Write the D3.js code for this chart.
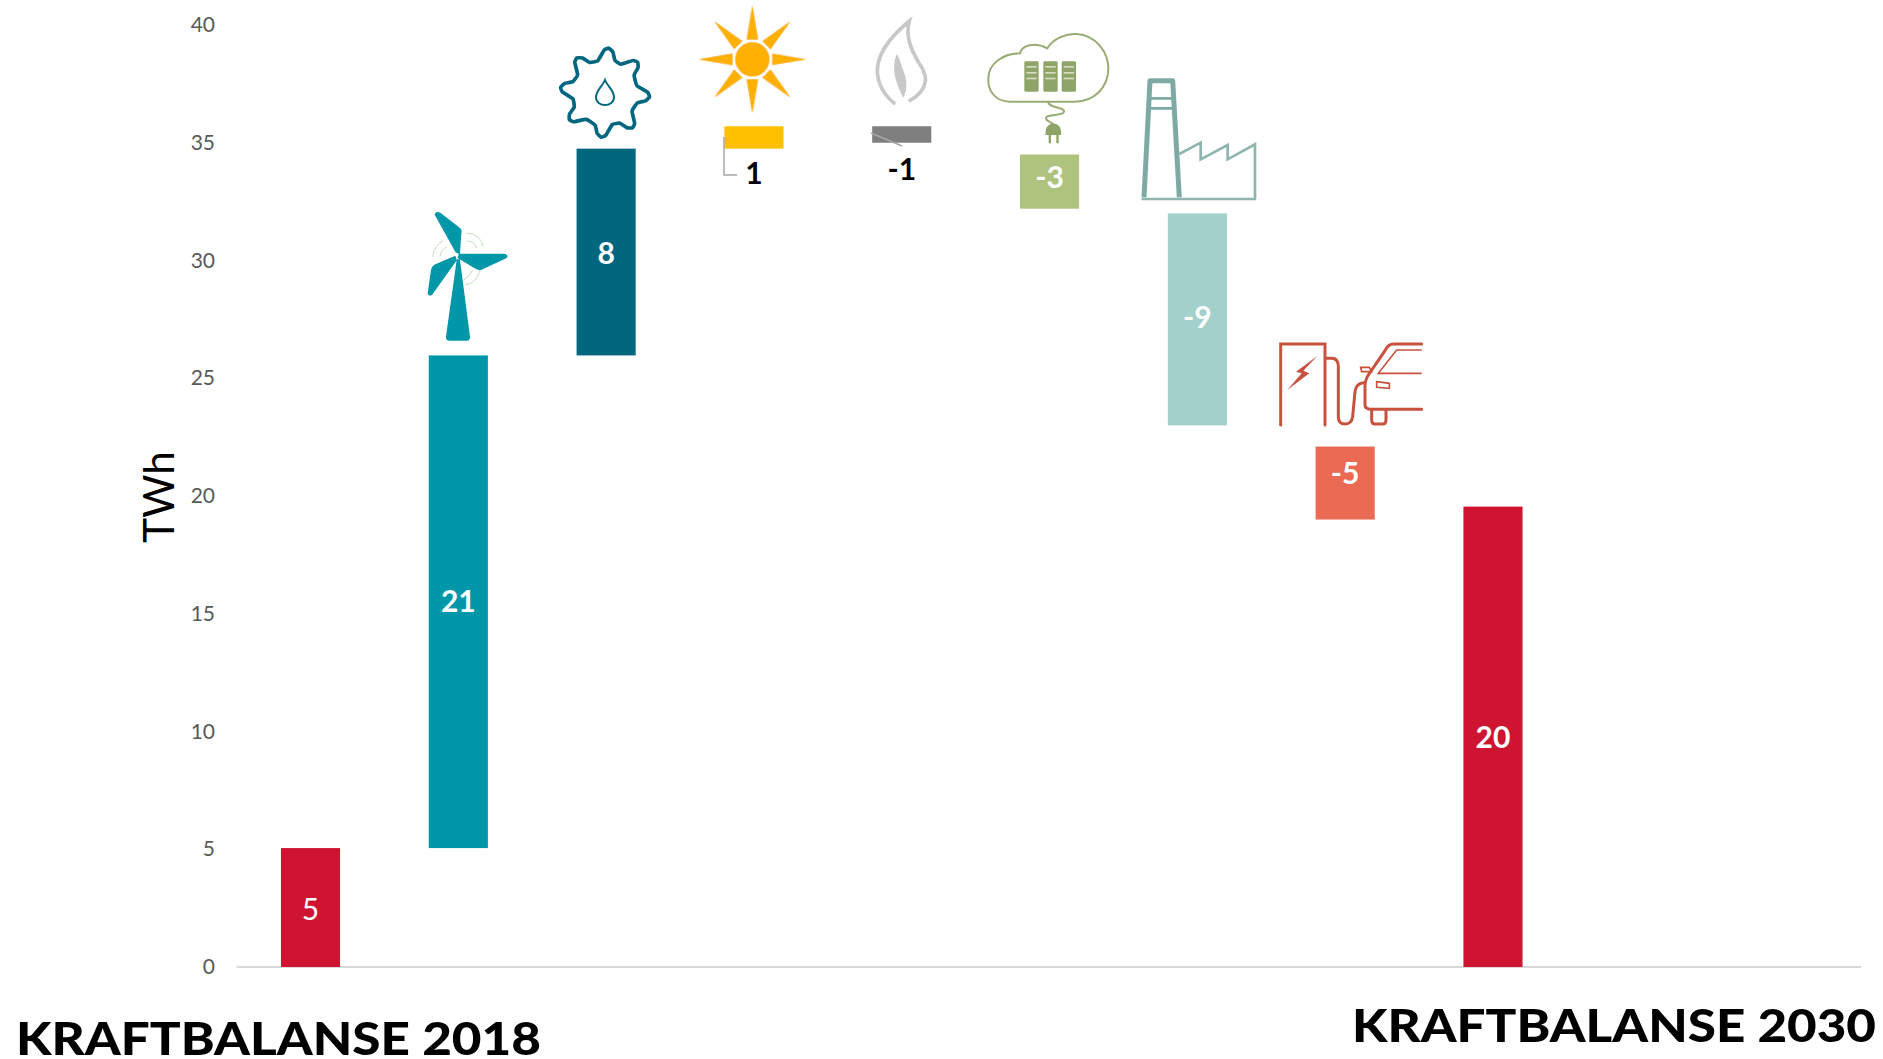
<!DOCTYPE html>
<html><head><meta charset="utf-8">
<script src="https://cdn.jsdelivr.net/npm/d3@7/dist/d3.min.js"></script>
<style>html,body{margin:0;padding:0;background:#fff}svg{display:block}text{font-family:Lato,sans-serif}</style>
</head><body><svg id="c" width="1883" height="1059"></svg>
<script>
const categories=["Kraftbalanse 2018","Vind","Vann","Sol","Gass","Datasenter","Industri","Transport","Kraftbalanse 2030","",""];
const barStarts=[0,5.05,25.97,34.75,35.7,34.5,32,22.1,0];
const barEnds=[5.05,25.97,34.75,35.7,35,32.2,23,19,19.55];
const barLabels=["5","21","8","1","-1","-3","-9","-5","20"];
const barColors=["#ce1431","#0097a9","#00677f","#ffc000","#7f7f7f","#aec37e","#a2d0cb","#ea6a54","#ce1431"];
const labelColors=["#fff","#fff","#fff","#000","#000","#fff","#fff","#fff","#fff"];
const labelShift=[2,0,1,0,0,-4.5,-2,-10,1];
const labelOutside=[null,null,null,33.7,33.85,null,null,null,null];
const yTicks=[0,5,10,15,20,25,30,35,40];

const svg=d3.select("#c");
const x=d3.scaleBand().domain(categories.map((d,i)=>i)).range([236.6,1862.5]).paddingInner(0.6).paddingOuter(0.3);
const y=d3.scaleLinear().domain([0,40]).range([967,25]);

const yAxis=d3.axisLeft(y).tickValues(yTicks).tickSize(0).tickPadding(0);
const ga=svg.append("g").attr("transform","translate(215,0)").call(yAxis);
ga.select(".domain").remove();
ga.selectAll("text").attr("fill","#595959").attr("font-size",21).style("font-family","Lato");
svg.append("line").attr("x1",236.6).attr("x2",1861).attr("y1",967).attr("y2",967).attr("stroke","#d9d9d9").attr("stroke-width",2);

const idx=barLabels.map((d,i)=>i);
svg.append("g").selectAll("rect").data(idx).join("rect")
 .attr("x",i=>x(i)).attr("width",x.bandwidth())
 .attr("y",i=>y(Math.max(barStarts[i],barEnds[i])))
 .attr("height",i=>Math.abs(y(barStarts[i])-y(barEnds[i])))
 .attr("fill",i=>barColors[i]);

svg.append("g").selectAll("text").data(idx).join("text")
 .attr("x",i=>x(i)+x.bandwidth()/2)
 .attr("y",i=>(labelOutside[i]!==null?y(labelOutside[i]):y((barStarts[i]+barEnds[i])/2)+labelShift[i]))
 .attr("dy","0.35em").attr("text-anchor","middle")
 .attr("font-size",30).attr("font-weight",i=>i===0?400:700)
 .attr("fill",i=>labelColors[i]).text(i=>barLabels[i]);

// leader lines
svg.append("path").attr("d","M724,137V175H737").attr("fill","none").attr("stroke","#a6a6a6").attr("stroke-width",1.5);
svg.append("path").attr("d","M871,133L902,146").attr("fill","none").attr("stroke","#a6a6a6").attr("stroke-width",1.5);

// axis title and captions
svg.append("text").attr("transform","translate(174,497) rotate(-90)").attr("text-anchor","middle").attr("font-size",42).attr("fill","#000").text("TWh");
svg.append("text").attr("x",16).attr("y",1055).attr("font-size",46).attr("font-weight",900).attr("fill","#000").attr("textLength",525).attr("lengthAdjust","spacingAndGlyphs").text("KRAFTBALANSE 2018");
svg.append("text").attr("x",1352).attr("y",1042).attr("font-size",46).attr("font-weight",900).attr("fill","#000").attr("textLength",524).attr("lengthAdjust","spacingAndGlyphs").text("KRAFTBALANSE 2030");

// ---- icons, in zoomed-crop units (3 units = 1 px) ----
const icon=(ox,oy)=>svg.append("g").attr("transform",`translate(${ox},${oy}) scale(${1/3})`);

// wind turbine
const w=icon(420,205);
w.append("path").attr("fill","none").attr("stroke","#c5dcc0").attr("stroke-width",3).attr("d","M38,155Q42,120 70,108M60,155Q62,135 82,125M140,85Q180,85 190,125M140,108Q165,108 170,130M130,225Q150,215 158,195M135,240Q170,235 180,195");
w.append("path").attr("fill","#0097a9").attr("stroke","#0097a9").attr("stroke-width",4).attr("stroke-linejoin","round").attr("d","M108,140L46,28Q50,20 60,25L118,70Q125,75 122,85L118,145ZM118,148L250,148Q265,150 258,158L185,192Q175,195 165,188L115,158ZM105,155L45,180Q38,185 35,195L25,265Q27,272 35,268L108,165ZM112,165L118,165L148,395Q148,405 140,405L88,405Q80,405 80,395Z");

// gear with droplet
const g=icon(400,0).append("g").attr("transform","translate(615,278)");
const gearAngles=[-83,-41,7.5,54,97,145,189,233];
const gearPts=gearAngles.flatMap(a=>[[a-20,98],[a-8,128],[a-2,134],[a+4,124],[a+10,102]]);
g.append("path").attr("fill","#fff").attr("stroke","#00677f").attr("stroke-width",11).attr("stroke-linejoin","round")
 .attr("d",d3.lineRadial().angle(d=>(d[0]+90)*Math.PI/180).radius(d=>d[1]).curve(d3.curveCardinalClosed.tension(0.6))(gearPts));
g.append("path").attr("fill","none").attr("stroke","#00677f").attr("stroke-width",6).attr("d","M0,-38C-8,-18 -27,-8 -27,14C-27,28 -14,37 0,37C14,37 27,28 27,14C27,-8 8,-18 0,-38Z");

// sun
const s=icon(400,0).append("g").attr("transform","translate(1057,178)").style("filter","drop-shadow(0 0 2px #f3bfae)");
[0,45,90,135,180,225,270,315].forEach(a=>{
 s.append("path").attr("transform",`rotate(${a})`).attr("fill","#ffb000").attr("d","M-17,-60L0,-161L17,-60Z");
});
s.append("circle").attr("r",51).attr("fill","#ffb000");

// flame
const f=icon(850,7);
f.append("path").attr("fill","none").attr("stroke","#c8c8c8").attr("stroke-width",11).attr("stroke-linecap","round")
 .attr("d","M132,288C110,270 85,240 82,195C80,140 120,90 178,42C165,90 185,130 205,165C228,195 228,220 225,225C222,250 200,270 180,280");
f.append("path").attr("fill","#c8c8c8").attr("d","M140,142C125,180 132,220 160,272C176,240 168,210 158,185C150,165 148,150 140,142Z");

// cloud
const c=icon(960,0);
c.append("path").attr("fill","none").attr("stroke","#9aab74").attr("stroke-width",6)
 .attr("d","M150,305C100,305 83,265 85,235C85,190 130,160 180,160C185,135 225,125 262,145C280,115 320,100 350,102C410,105 445,160 445,205C445,265 400,305 345,305Z");
[193,250,305].forEach(bx=>{
 c.append("rect").attr("x",bx).attr("y",184).attr("width",43).attr("height",91).attr("rx",4).attr("fill","#8fa468");
 [198,216,233].forEach(by=>c.append("rect").attr("x",bx+6).attr("y",by).attr("width",31).attr("height",5).attr("fill","#d5dcc0"));
});
c.append("path").attr("fill","none").attr("stroke","#9aab74").attr("stroke-width",6)
 .attr("d","M265,305C265,325 315,320 312,335C310,350 258,340 258,355C258,365 275,365 278,372");
c.append("path").attr("fill","#8fa468").attr("d","M256,405Q256,372 280,370Q304,372 304,405ZM266,405H273V430H266ZM289,405H296V430H289Z");

// factory
const p=icon(960,0);
p.append("path").attr("fill","none").attr("stroke","#7fa9a4").attr("stroke-width",15).attr("stroke-linejoin","round")
 .attr("d","M552,592L570,242H638L658,592");
p.append("path").attr("fill","none").attr("stroke","#7fa9a4").attr("stroke-width",8).attr("d","M566,295H642M566,325H644");
p.append("path").attr("fill","none").attr("stroke","#8fb5b0").attr("stroke-width",8).attr("d","M545,597H888M658,462L722,428V478L803,435V478L885,433V597");

// EV charger and car
const e=icon(1260,330);
const evc="#c8513f";
e.append("path").attr("fill","none").attr("stroke",evc).attr("stroke-width",9).attr("stroke-linecap","round")
 .attr("d","M62,285V42H195V285M195,85H215Q235,85 235,110V260Q235,282 255,282Q275,282 278,260L285,185Q288,160 310,158M485,42H400Q385,42 375,62L325,135Q315,150 315,170V225Q315,238 335,238H485M335,238V270Q335,282 345,282H368Q378,282 378,270V238");
e.append("path").attr("fill","none").attr("stroke",evc).attr("stroke-width",5).attr("d","M485,60H410L355,130H485M350,155L388,160V175L350,172ZM302,112H328L335,125H305Z");
e.append("path").attr("fill",evc).attr("d","M172,78L108,125L125,130L82,180L148,130L130,122Z");
</script></body></html>
